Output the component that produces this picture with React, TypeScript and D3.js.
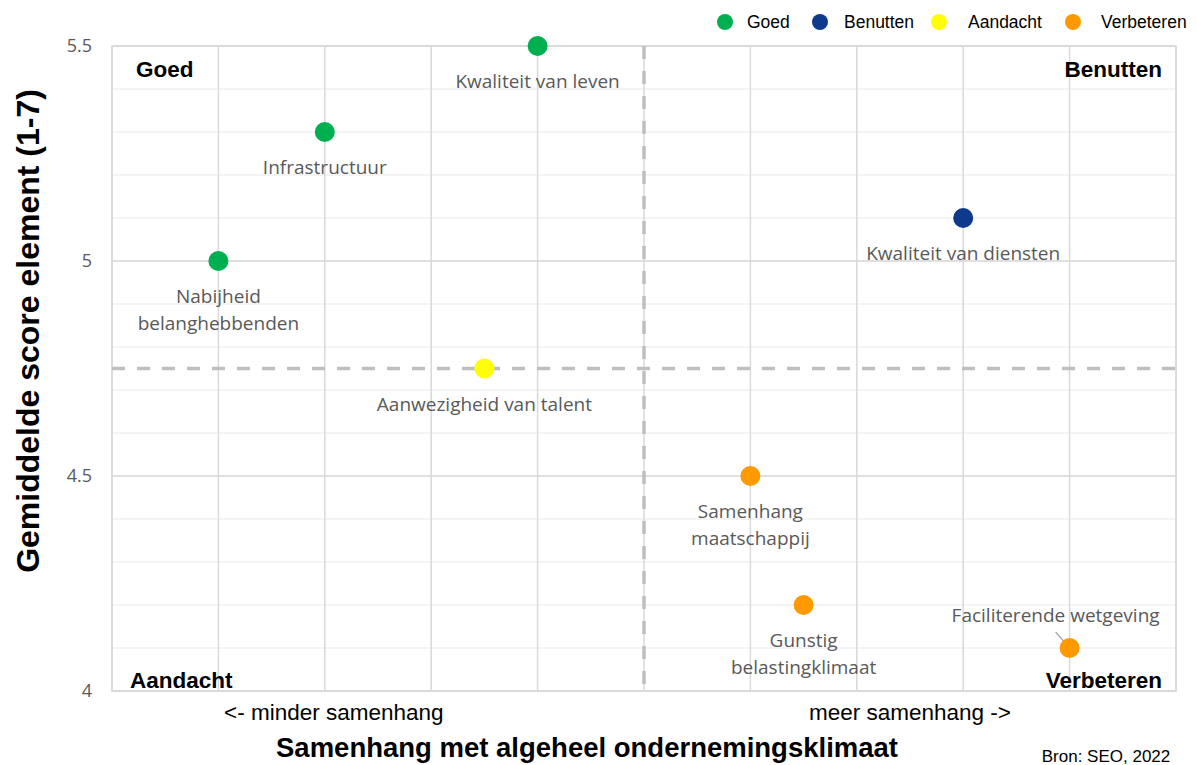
import React from 'react';
import * as d3 from 'd3';

// chart data
const names = [
  'Kwaliteit van leven',
  'Infrastructuur',
  'Nabijheid\nbelanghebbenden',
  'Aanwezigheid van talent',
  'Kwaliteit van diensten',
  'Samenhang\nmaatschappij',
  'Gunstig\nbelastingklimaat',
  'Faciliterende wetgeving',
];
const samenhang = [4, 2, 1, 3.5, 8, 6, 6.5, 9];
const scores = [5.5, 5.3, 5.0, 4.75, 5.1, 4.5, 4.2, 4.1];
const groups = ['Goed', 'Goed', 'Goed', 'Aandacht', 'Benutten', 'Verbeteren', 'Verbeteren', 'Verbeteren'];

const legendNames = ['Goed', 'Benutten', 'Aandacht', 'Verbeteren'];
const legendColors = ['#00B050', '#0D3A8A', '#FFFF00', '#FF9900'];
const yTicks = [4, 4.5, 5, 5.5];
const xMid = 5;
const yMid = 4.75;

const W = 1197;
const H = 765;
const margin = { top: 46, right: 21, bottom: 74, left: 112 };

// legend layout
const legendDotX = [725, 820, 939, 1073];
const legendTextX = [747, 844, 968, 1101];

const App = () => {
  const x = d3.scaleLinear().domain([0, 10]).range([margin.left, W - margin.right]);
  const y = d3.scaleLinear().domain([4, 5.5]).range([H - margin.bottom, margin.top]);
  const color = d3.scaleOrdinal<string, string>().domain(legendNames).range(legendColors);

  const minorY = d3.range(40, 56).map(v => v / 10);
  const xGrid = d3.range(0, 11);
  const labelFont = "'Open Sans', sans-serif";
  const arial = "'Liberation Sans', Arial, sans-serif";

  return (
    <svg width={W} height={H} style={{ display: 'block', position: 'absolute', left: 0, top: 0, background: '#fff' }}>
      {/* minor gridlines */}
      {minorY.map(v => (
        <line key={'m' + v} x1={x(0)} x2={x(10)} y1={y(v)} y2={y(v)} stroke="#f0f0f0" strokeWidth={1.5} />
      ))}
      {yTicks.map(v => (
        <line key={'g' + v} x1={x(0)} x2={x(10)} y1={y(v)} y2={y(v)} stroke="#d9d9d9" strokeWidth={1.5} />
      ))}
      {xGrid.map(v => (
        <line key={'x' + v} x1={x(v)} x2={x(v)} y1={y(4)} y2={y(5.5)} stroke="#d9d9d9" strokeWidth={1.5} />
      ))}
      <rect x={x(0)} y={y(5.5)} width={x(10) - x(0)} height={y(4) - y(5.5)} fill="none" stroke="#d9d9d9" strokeWidth={1.5} />

      {/* quadrant dividers */}
      <line x1={x(0)} x2={x(10)} y1={y(yMid)} y2={y(yMid)} stroke="#bfbfbf" strokeWidth={3.5} strokeDasharray="13 12" />
      <line x1={x(xMid)} x2={x(xMid)} y1={y(5.5)} y2={y(4)} stroke="#bfbfbf" strokeWidth={3.5} strokeDasharray="13 12" />

      {/* y tick labels */}
      {yTicks.map(v => (
        <text key={'t' + v} x={x(0) - 20} y={y(v)} dy="0.35em" textAnchor="end" fontFamily={labelFont} fontSize={18} fill="#595959">
          {d3.format('~g')(v)}
        </text>
      ))}

      {/* quadrant names */}
      <g fontFamily={arial} fontWeight="bold" fontSize={22.5} fill="#000">
        <text x={136} y={y(5.5) + 31}>Goed</text>
        <text x={x(10) - 14} y={y(5.5) + 31} textAnchor="end">Benutten</text>
        <text x={130} y={y(4) - 3}>Aandacht</text>
        <text x={x(10) - 14} y={y(4) - 3} textAnchor="end">Verbeteren</text>
      </g>

      {/* leader line */}
      {names.map((n, i) =>
        n === 'Faciliterende wetgeving' ? (
          <line key={'l' + i} x1={x(samenhang[i]) - 14} y1={y(scores[i]) - 16} x2={x(samenhang[i])} y2={y(scores[i])} stroke="#a6a6a6" strokeWidth={1.2} />
        ) : null
      )}

      {/* points */}
      {names.map((n, i) => (
        <circle key={'c' + i} cx={x(samenhang[i])} cy={y(scores[i])} r={10} fill={color(groups[i])} />
      ))}

      {/* point labels */}
      {names.map((n, i) => {
        const above = n === 'Faciliterende wetgeving';
        const lines = n.split('\n');
        const cx = above ? x(samenhang[i]) - 14 : x(samenhang[i]);
        const baseY = above ? y(scores[i]) - 26 : y(scores[i]) + 42;
        return (
          <text key={'n' + i} x={cx} y={baseY} textAnchor="middle" fontFamily={labelFont} fontSize={19} fill="#595959">
            {lines.map((ln, j) => (
              <tspan key={j} x={cx} dy={j === 0 ? 0 : 27}>{ln}</tspan>
            ))}
          </text>
        );
      })}

      {/* legend */}
      {legendNames.map((g, i) => (
        <g key={'lg' + g}>
          <circle cx={legendDotX[i]} cy={22} r={8} fill={legendColors[i]} />
          <text x={legendTextX[i]} y={22} dy="0.35em" fontFamily={arial} fontSize={17.5} fill="#000">{g}</text>
        </g>
      ))}

      {/* axis titles */}
      <text x={x(2) + 9} y={712} dy="0.35em" textAnchor="middle" fontFamily={arial} fontSize={22.5} fill="#000">&lt;- minder samenhang</text>
      <text x={x(7.5)} y={712} dy="0.35em" textAnchor="middle" fontFamily={arial} fontSize={22.5} fill="#000">meer samenhang -&gt;</text>
      <text x={587} y={757} textAnchor="middle" fontFamily={arial} fontWeight="bold" fontSize={27.5} fill="#000">Samenhang met algeheel ondernemingsklimaat</text>
      <text x={1106} y={762} textAnchor="middle" fontFamily={arial} fontSize={17} fill="#000">Bron: SEO, 2022</text>
      <text transform={`translate(39, 331) rotate(-90)`} textAnchor="middle" fontFamily={arial} fontWeight="bold" fontSize={32} fill="#000">
        Gemiddelde score element (1-7)
      </text>
    </svg>
  );
};

export default App;
